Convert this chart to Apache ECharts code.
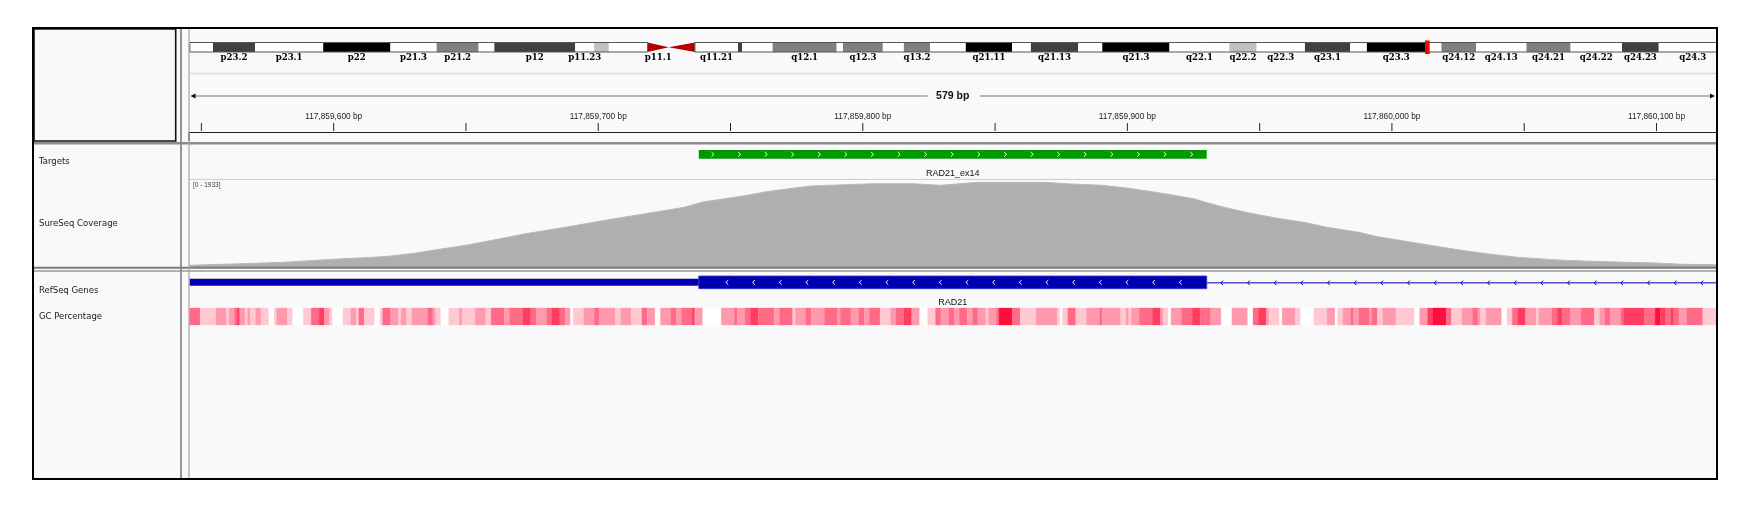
<!DOCTYPE html>
<html>
<head>
<meta charset="utf-8">
<title>RAD21_ex14 - SureSeq Coverage</title>
<script src="https://cdn.jsdelivr.net/npm/echarts@6/dist/echarts.min.js"></script>
<style>
html, body { margin: 0; padding: 0; background: #fff; }
#chart { width: 1754px; height: 508px; }
</style>
</head>
<body>
<div id="chart"></div>
<script>
// ---- view (chr8, hg19) ----
const viewStart = 117859545.5;
const viewEnd = 117860122.5;
const spanLabel = '579 bp';
const tickPos = [117859550, 117859600, 117859650, 117859700, 117859750, 117859800,
                 117859850, 117859900, 117859950, 117860000, 117860050, 117860100];

// ---- chr8 cytobands (Mb) ----
const bandName = ['p23.3','p23.2','p23.1','p22','p21.3','p21.2','p21.1','p12','p11.23','p11.22',
  'p11.21','p11.1','q11.1','q11.21','q11.22','q11.23','q12.1','q12.2','q12.3','q13.1',
  'q13.2','q13.3','q21.11','q21.12','q21.13','q21.2','q21.3','q22.1','q22.2','q22.3',
  'q23.1','q23.2','q23.3','q24.11','q24.12','q24.13','q24.21','q24.22','q24.23','q24.3'];
const bandStart = [0, 2.2, 6.2, 12.7, 19.1, 23.5, 27.5, 29.0, 36.7, 38.5,
  39.9, 43.6, 45.6, 48.1, 52.2, 52.6, 55.5, 61.6, 62.2, 66.0,
  68.0, 70.5, 73.9, 78.3, 80.1, 84.6, 86.9, 93.3, 99.0, 101.6,
  106.2, 110.5, 112.1, 117.7, 119.2, 122.5, 127.3, 131.5, 136.4, 139.9];
const bandEnd = [2.2, 6.2, 12.7, 19.1, 23.5, 27.5, 29.0, 36.7, 38.5, 39.9,
  43.6, 45.6, 48.1, 52.2, 52.6, 55.5, 61.6, 62.2, 66.0, 68.0,
  70.5, 73.9, 78.3, 80.1, 84.6, 86.9, 93.3, 99.0, 101.6, 106.2,
  110.5, 112.1, 117.7, 119.2, 122.5, 127.3, 131.5, 136.4, 139.9, 146.364];
const bandStain = ['gneg','gpos75','gneg','gpos100','gneg','gpos50','gneg','gpos75','gneg','gpos25',
  'gneg','acen','acen','gneg','gpos75','gneg','gpos50','gneg','gpos50','gneg',
  'gpos50','gneg','gpos100','gneg','gpos75','gneg','gpos100','gneg','gpos25','gneg',
  'gpos75','gneg','gpos100','gneg','gpos50','gneg','gpos50','gneg','gpos75','gneg'];
const cytoLabels = ['p23.2','p23.1','p22','p21.3','p21.2','p12','p11.23','p11.1','q11.21','q12.1',
  'q12.3','q13.2','q21.11','q21.13','q21.3','q22.1','q22.2','q22.3','q23.1','q23.3',
  'q24.12','q24.13','q24.21','q24.22','q24.23','q24.3'];
const armStart = [0, 48.1];
const armEnd = [43.6, 146.364];

// ---- target / gene ----
const targetName = 'RAD21_ex14';
const targetStart = 117859738;
const targetEnd = 117859930;
const geneName = 'RAD21';
const exonStart = 117859738;
const exonEnd = 117859930;

// ---- coverage (offset from viewStart, read depth) ----
const coverageMax = 1933;
const covPos = [0,7,25,35,44,54,64,71,76,85,92,105,113,128,142,154,163,177,187,194,
  210,218,228,235,248,259,273,284,298,311,323,333,345,355,362,370,380,384,391,400,
  410,422,430,442,449,459,470,480,491,502,517,527,543,554,564,577];
const covVal = [38,51,82,104,133,171,200,222,244,304,371,489,578,749,882,1007,1095,1229,1327,1444,
  1584,1673,1749,1800,1829,1851,1851,1815,1882,1882,1882,1844,1815,1749,1689,1615,1511,1438,1327,1207,
  1095,984,882,771,673,578,473,378,289,216,156,133,104,89,60,51];

// ---- GC percentage bins: [start offset, end offset, level 0..5] ----
const gcBins = [
  [0,4,3],[4,10,1],[10,14,2],[14,15,1],[15,17,2],[17,18,3],[18,19,4],[19,21,2],[21,22,1],[22,23,2],
  [23,25,1],[25,27,2],[27,30,1],[30,32,0],[32,33,1],[33,37,2],[37,39,1],[39,43,0],[43,46,1],[46,49,3],
  [49,51,4],[51,53,2],[53,54,1],[54,58,0],[58,61,1],[61,63,2],[63,64,1],[64,66,3],[66,70,1],[70,72,0],
  [72,73,1],[73,76,3],[76,79,2],[79,80,1],[80,82,2],[82,84,1],[84,90,2],[90,92,3],[92,93,2],[93,95,1],
  [95,98,0],[98,102,1],[102,103,2],[103,108,1],[108,112,2],[112,114,1],[114,119,3],[119,121,2],[121,126,3],[126,129,4],
  [129,131,3],[131,135,2],[135,137,3],[137,140,4],[140,142,3],[142,144,2],[144,145,0],[145,149,1],[149,153,2],[153,155,3],
  [155,161,2],[161,163,1],[163,167,2],[167,171,1],[171,173,3],[173,176,2],[176,178,0],[178,182,2],[182,184,3],[184,186,2],
  [186,190,3],[190,191,4],
  [191,194,2],[194,201,0],[201,206,2],[206,207,3],[207,210,2],[210,212,3],[212,215,4],[215,221,3],[221,223,2],[223,228,3],
  [228,229,1],[229,233,2],[233,235,3],[235,240,2],[240,245,3],[245,246,2],[246,250,3],[250,253,2],[253,255,3],[255,257,2],
  [257,261,3],[261,265,1],[265,267,2],[267,270,3],[270,273,4],[273,276,2],[276,279,0],[279,282,1],[282,284,3],[284,287,2],
  [287,289,3],[289,291,2],[291,294,3],[294,296,2],[296,298,3],[298,301,2],[301,302,1],[302,305,2],[305,306,3],[306,311,5],
  [311,314,3],[314,320,1],[320,328,2],[328,329,1],[329,330,0],[330,332,1],[332,335,3],[335,339,1],[339,344,2],[344,345,3],
  [345,352,2],[352,354,1],[354,355,2],[355,356,1],[356,359,2],[359,364,3],[364,367,4],[367,368,2],[368,370,1],[370,371,0],
  [371,375,2],[375,379,3],[379,382,4],[382,384,3],
  [384,386,3],[386,390,2],[390,394,0],[394,400,2],[400,402,0],[402,404,3],[404,407,4],[407,408,2],[408,412,1],[412,413,0],
  [413,418,2],[418,420,1],[420,425,0],[425,430,1],[430,433,2],[433,434,0],[434,436,1],[436,439,2],[439,440,3],[440,442,2],
  [442,446,3],[446,447,2],[447,449,3],[449,451,1],[451,456,2],[456,463,1],[463,465,0],[465,468,2],[468,470,4],[470,475,5],
  [475,477,3],[477,481,1],[481,485,2],[485,487,3],[487,488,2],[488,490,1],[490,496,2],[496,498,0],[498,500,1],[500,502,3],
  [502,505,4],[505,509,2],[509,510,1],[510,515,2],[515,517,3],[517,519,4],[519,522,3],[522,526,2],[526,531,3],[531,533,1],
  [533,535,2],[535,537,3],[537,541,2],[541,542,3],[542,550,4],[550,554,3],[554,556,5],[556,558,4],[558,560,3],[560,561,4],
  [561,563,3],[563,566,2],[566,572,3],[572,577,1]
];

const trackNames = ['Targets', 'SureSeq Coverage', 'RefSeq Genes', 'GC Percentage'];
const trackNameY = [162, 224, 290.5, 316.5];

// ---- styles ----
const stainColor = { gneg: '#ffffff', gpos25: '#c0c0c0', gpos50: '#808080', gpos75: '#404040', gpos100: '#000000' };
const gcColors = ['#ffffff', '#ffc9d4', '#ff9aae', '#ff6a86', '#ff3d60', '#ff0d3d'];
const geneColor = '#0000b2';
const SANS = '"Liberation Sans", Arial, sans-serif';

function commas(n) {
  return String(n).replace(/\B(?=(\d{3})+(?!\d))/g, ',');
}
function txt(text, x, y, size, opt) {
  opt = opt || {};
  return {
    type: 'text',
    style: {
      text: text, x: x, y: y,
      fontSize: size, fontFamily: opt.family || SANS, fontWeight: opt.weight || 'normal',
      fill: opt.fill || '#111',
      align: opt.align || 'center', textAlign: opt.align || 'center',
      verticalAlign: 'middle', textVerticalAlign: 'middle'
    }
  };
}

// ideogram bands
function renderBand(params, api) {
  const i = params.dataIndex;
  const cs = params.coordSys;
  const right = cs.x + cs.width;
  const x0 = api.coord([api.value(0), 0])[0];
  const x1full = api.coord([api.value(1), 0])[0];
  const x1 = Math.min(x1full, right);
  const y0 = cs.y, h = cs.height, ym = y0 + h / 2;
  const kids = [];
  if (bandStain[i] === 'acen') {
    const pts = bandName[i][0] === 'p'
      ? [[x0, y0], [x1, ym], [x0, y0 + h]]
      : [[x0, ym], [x1, y0], [x1, y0 + h]];
    kids.push({ type: 'polygon', shape: { points: pts }, style: { fill: '#b40000' } });
  } else {
    kids.push({ type: 'rect', shape: { x: x0, y: y0, width: x1 - x0, height: h },
      style: { fill: stainColor[bandStain[i]] } });
  }
  if (cytoLabels.indexOf(bandName[i]) >= 0) {
    kids.push(txt(bandName[i], (x0 + x1full) / 2, y0 + h + 5.5, 8.6,
      { family: '"DejaVu Serif", "Liberation Serif", serif', weight: 'bold', fill: '#000' }));
  }
  return { type: 'group', children: kids };
}

function renderArm(params, api) {
  const cs = params.coordSys;
  const right = cs.x + cs.width;
  const x0 = api.coord([api.value(0), 0])[0];
  const x1 = Math.min(api.coord([api.value(1), 0])[0], right);
  return { type: 'rect', shape: { x: x0, y: cs.y, width: x1 - x0, height: cs.height },
    style: { fill: 'none', stroke: '#555', lineWidth: 1 } };
}

function renderMarker(params, api) {
  const cs = params.coordSys;
  const a = api.coord([api.value(0), 0])[0];
  const b = api.coord([api.value(1), 0])[0];
  const w = Math.max(4.6, b - a);
  const c = (a + b) / 2;
  return { type: 'rect', shape: { x: c - w / 2, y: cs.y - 2, width: w, height: cs.height + 4 },
    style: { fill: '#ff0000' } };
}

// ruler
function renderTick(params, api) {
  const cs = params.coordSys;
  const t = api.value(0);
  const x = api.coord([t, 0])[0];
  const yb = cs.y + cs.height;
  const kids = [{ type: 'line', shape: { x1: x, y1: yb - 9, x2: x, y2: yb - 1 },
    style: { stroke: '#222', lineWidth: 1 } }];
  if (t % 100 === 0) kids.push(txt(commas(t) + ' bp', x, yb - 15.5, 8.3, { fill: '#222' }));
  return { type: 'group', children: kids };
}

function renderSpan(params, api) {
  const cs = params.coordSys;
  const xl = api.coord([api.value(0), 0])[0];
  const xr = api.coord([api.value(1), 0])[0];
  const y = cs.y + 8;
  const c = (xl + xr) / 2;
  return { type: 'group', children: [
    { type: 'line', shape: { x1: xl + 5, y1: y, x2: c - 25, y2: y }, style: { stroke: '#777', lineWidth: 1.2 } },
    { type: 'line', shape: { x1: c + 27, y1: y, x2: xr - 5, y2: y }, style: { stroke: '#777', lineWidth: 1.2 } },
    { type: 'polygon', shape: { points: [[xl + 1, y], [xl + 6, y - 2.5], [xl + 6, y + 2.5]] }, style: { fill: '#111' } },
    { type: 'polygon', shape: { points: [[xr - 1, y], [xr - 6, y - 2.5], [xr - 6, y + 2.5]] }, style: { fill: '#111' } },
    txt(spanLabel, c, y, 10.5, { weight: 'bold', fill: '#111' })
  ] };
}

// targets
function renderTarget(params, api) {
  const cs = params.coordSys;
  const x0 = api.coord([api.value(0), 0])[0];
  const x1 = api.coord([api.value(1), 0])[0];
  const ym = cs.y + cs.height / 2;
  const kids = [{ type: 'rect', shape: { x: x0, y: cs.y, width: x1 - x0, height: cs.height },
    style: { fill: '#009a00' } }];
  for (let cx = x0 + 14; cx < x1 - 8; cx += 26.6) {
    kids.push({ type: 'polyline', shape: { points: [[cx - 1.2, ym - 2.2], [cx + 1.2, ym], [cx - 1.2, ym + 2.2]] },
      style: { stroke: '#fff', lineWidth: 1, fill: 'none' } });
  }
  kids.push(txt(targetName, (x0 + x1) / 2, cs.y + cs.height + 14.5, 9, { fill: '#111' }));
  return { type: 'group', children: kids };
}

// refseq gene
function renderGene(params, api) {
  const cs = params.coordSys;
  const xl = cs.x, xr = cs.x + cs.width;
  const e0 = api.coord([api.value(0), 0])[0];
  const e1 = api.coord([api.value(1), 0])[0];
  const ym = cs.y + cs.height / 2;
  const kids = [
    { type: 'rect', shape: { x: xl, y: ym - 3.5, width: e0 - xl, height: 7 }, style: { fill: geneColor } },
    { type: 'line', shape: { x1: e1, y1: ym + 0.5, x2: xr, y2: ym + 0.5 }, style: { stroke: geneColor, lineWidth: 1 } },
    { type: 'rect', shape: { x: e0, y: cs.y, width: e1 - e0, height: cs.height },
      style: { fill: geneColor, stroke: '#3434c8', lineWidth: 0.8 } }
  ];
  for (let cx = e0 + 28.3; cx < e1 - 15; cx += 26.67) {
    kids.push({ type: 'polyline', shape: { points: [[cx + 1.2, ym - 2.2], [cx - 1.2, ym], [cx + 1.2, ym + 2.2]] },
      style: { stroke: '#fff', lineWidth: 1, fill: 'none' } });
  }
  for (let cx = e1 + 15; cx < xr - 3; cx += 26.67) {
    kids.push({ type: 'polyline', shape: { points: [[cx + 1.3, ym - 1.8], [cx - 0.8, ym + 0.5], [cx + 1.3, ym + 2.8]] },
      style: { stroke: geneColor, lineWidth: 1, fill: 'none' } });
  }
  kids.push(txt(geneName, (e0 + e1) / 2, cs.y + cs.height + 13.5, 9, { fill: '#111' }));
  return { type: 'group', children: kids };
}

// gc cells
function renderGc(params, api) {
  const cs = params.coordSys;
  const x0 = api.coord([api.value(0), 0])[0];
  const x1 = api.coord([api.value(1), 0])[0];
  const c = gcColors[api.value(2)];
  return { type: 'rect', shape: { x: x0, y: cs.y, width: x1 - x0, height: cs.height },
    style: { fill: c, stroke: c, lineWidth: 0.3 } };
}

// ---- frame / panels (decoration) ----
const D0 = 189, D1 = 1716;
const frame = [
  { type: 'rect', z: -10, shape: { x: 33, y: 28, width: 1684, height: 451 }, style: { fill: '#f9f9f9' } },
  { type: 'line', z: 5, shape: { x1: D0, y1: 73.5, x2: D1, y2: 73.5 }, style: { stroke: '#dadada', lineWidth: 1.5 } },
  { type: 'line', z: 5, shape: { x1: D0, y1: 132.5, x2: D1, y2: 132.5 }, style: { stroke: '#222', lineWidth: 1.2 } },
  { type: 'line', z: 5, shape: { x1: D0, y1: 132.5, x2: D0, y2: 141 }, style: { stroke: '#222', lineWidth: 1.2 } },
  { type: 'line', z: 5, shape: { x1: 34, y1: 143.2, x2: D1, y2: 143.2 }, style: { stroke: '#8c8c8c', lineWidth: 2.4 } },
  { type: 'line', z: 5, shape: { x1: D0, y1: 179.4, x2: D1, y2: 179.4 }, style: { stroke: '#c9c9d0', lineWidth: 1 } },
  { type: 'line', z: 5, shape: { x1: 34, y1: 267.7, x2: D1, y2: 267.7 }, style: { stroke: '#7a7a7a', lineWidth: 2 } },
  { type: 'line', z: 5, shape: { x1: 34, y1: 271, x2: D1, y2: 271 }, style: { stroke: '#9a9a9a', lineWidth: 1.6 } },
  { type: 'line', z: 6, shape: { x1: 181, y1: 29, x2: 181, y2: 478 }, style: { stroke: '#8a8a8a', lineWidth: 1.8 } },
  { type: 'line', z: 6, shape: { x1: D0, y1: 29, x2: D0, y2: 478 }, style: { stroke: '#a4a4a4', lineWidth: 1.2 } },
  { type: 'rect', z: 6, shape: { x: 34, y: 29, width: 141.7, height: 112 }, style: { fill: 'none', stroke: '#111', lineWidth: 1.6 } },
  { type: 'rect', z: 20, shape: { x: 33, y: 28, width: 1684, height: 451 }, style: { fill: 'none', stroke: '#000', lineWidth: 2 } },
  Object.assign(txt('[0 - ' + coverageMax + ']', 193, 185.5, 6.5, { align: 'left', fill: '#444' }), { z: 6 })
];
trackNames.forEach(function (n, i) {
  const t = txt(n, 39, trackNameY[i], 8.5, { align: 'left', family: '"DejaVu Sans", sans-serif', fill: '#1a1a1a' });
  t.z = 6;
  frame.push(t);
});

const genomicX = function (g) {
  return { type: 'value', gridIndex: g, min: viewStart, max: viewEnd, show: false };
};
const unitY = function (g) {
  return { type: 'value', gridIndex: g, min: 0, max: 1, show: false };
};

const chart = echarts.init(document.getElementById('chart'));
chart.setOption({
  animation: false,
  backgroundColor: '#ffffff',
  graphic: { elements: frame },
  grid: [
    { left: 189.9, right: 37.5, top: 42.5, height: 9.5 },  // ideogram
    { left: 189.5, right: 38, top: 88, height: 44 },       // ruler
    { left: 189.5, right: 38, top: 150, height: 8.7 },     // targets
    { left: 189.5, right: 38, top: 180, height: 87 },      // coverage
    { left: 189.5, right: 38, top: 276, height: 12.7 },    // refseq genes
    { left: 189.5, right: 38, top: 308, height: 17 }       // gc percentage
  ],
  xAxis: [
    { type: 'value', gridIndex: 0, min: 0, max: 145.4, show: false },
    genomicX(1), genomicX(2), genomicX(3), genomicX(4), genomicX(5)
  ],
  yAxis: [
    unitY(0), unitY(1), unitY(2),
    { type: 'value', gridIndex: 3, min: 0, max: coverageMax, show: false },
    unitY(4), unitY(5)
  ],
  series: [
    { type: 'custom', xAxisIndex: 0, yAxisIndex: 0, silent: true, z: 3,
      data: bandStart.map(function (s, i) { return [s, bandEnd[i]]; }),
      encode: { x: [0, 1] }, renderItem: renderBand },
    { type: 'custom', xAxisIndex: 0, yAxisIndex: 0, silent: true, z: 4,
      data: armStart.map(function (s, i) { return [s, armEnd[i]]; }),
      encode: { x: [0, 1] }, renderItem: renderArm },
    { type: 'custom', xAxisIndex: 0, yAxisIndex: 0, silent: true, z: 5,
      data: [[viewStart / 1e6, viewEnd / 1e6]],
      encode: { x: [0, 1] }, renderItem: renderMarker },
    { type: 'custom', xAxisIndex: 1, yAxisIndex: 1, silent: true,
      data: tickPos.map(function (t) { return [t]; }),
      encode: { x: 0 }, renderItem: renderTick },
    { type: 'custom', xAxisIndex: 1, yAxisIndex: 1, silent: true,
      data: [[viewStart, viewEnd]], encode: { x: [0, 1] }, renderItem: renderSpan },
    { type: 'custom', xAxisIndex: 2, yAxisIndex: 2, silent: true,
      data: [[targetStart, targetEnd]], encode: { x: [0, 1] }, renderItem: renderTarget },
    { type: 'line', name: 'SureSeq Coverage', xAxisIndex: 3, yAxisIndex: 3, silent: true,
      symbol: 'none', smooth: false,
      lineStyle: { color: '#b9b9b9', width: 1 },
      areaStyle: { color: '#afafaf', opacity: 1 },
      data: covPos.map(function (p, i) { return [viewStart + p, covVal[i]]; }) },
    { type: 'custom', xAxisIndex: 4, yAxisIndex: 4, silent: true,
      data: [[exonStart, exonEnd]], encode: { x: [0, 1] }, renderItem: renderGene },
    { type: 'custom', xAxisIndex: 5, yAxisIndex: 5, silent: true,
      data: gcBins.map(function (b) { return [viewStart + b[0], viewStart + b[1], b[2]]; }),
      encode: { x: [0, 1] }, renderItem: renderGc }
  ]
});
</script>
</body>
</html>
